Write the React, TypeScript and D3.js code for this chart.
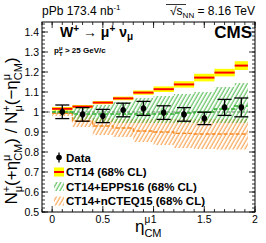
import React from "react";
import * as d3 from "d3";

const binEdges = [0, 0.2, 0.4, 0.6, 0.8, 1.0, 1.2, 1.4, 1.6, 1.8, 1.93];
const etaPoints = [0.1, 0.3, 0.5, 0.7, 0.9, 1.1, 1.3, 1.5, 1.7, 1.865];
const dataRatio = [1.001, 0.988, 0.98, 1.01, 1.018, 0.997, 0.988, 0.968, 1.023, 1.023];
const dataErr = [0.034, 0.034, 0.033, 0.034, 0.035, 0.034, 0.034, 0.031, 0.04, 0.047];
const ct14Central = [1.016, 1.027, 1.047, 1.068, 1.097, 1.114, 1.138, 1.172, 1.197, 1.232];
const ct14Err = [0.009, 0.008, 0.008, 0.009, 0.011, 0.014, 0.016, 0.019, 0.019, 0.022];
const eppsCentral = [1.0, 0.99, 0.99, 0.99, 0.99, 0.99, 0.995, 1.0, 1.015, 1.03];
const eppsLo = [0.99, 0.962, 0.95, 0.945, 0.945, 0.945, 0.945, 0.945, 0.945, 0.945];
const eppsHi = [1.01, 1.02, 1.035, 1.05, 1.07, 1.08, 1.09, 1.1, 1.125, 1.145];
const ncteqCentral = [0.993, 0.955, 0.93, 0.92, 0.905, 0.9, 0.893, 0.89, 0.89, 0.89];
const ncteqLo = [0.98, 0.925, 0.885, 0.875, 0.85, 0.835, 0.82, 0.815, 0.812, 0.812];
const ncteqHi = [1.0, 0.985, 0.97, 0.965, 0.965, 0.965, 0.965, 0.965, 0.965, 0.965];
const xTicks = [0, 0.5, 1, 1.5, 2];
const yTicks = [0.5, 0.6, 0.7, 0.8, 0.9, 1.0, 1.1, 1.2, 1.3, 1.4];
const legendLabels = ["Data", "CT14 (68% CL)", "CT14+EPPS16 (68% CL)", "CT14+nCTEQ15 (68% CL)"];

const L = 42, R = 255, T = 22, B = 212;
const GREEN = "#2fae2f";
const ORANGE = "#f5891f";
const FONT = "'Liberation Sans', Arial, Helvetica, sans-serif";

export default function App() {
  const x = d3.scaleLinear().domain([-0.1, 2.0]).range([L, R]);
  const y = d3.scaleLinear().domain([0.5, 1.45]).range([B, T]);

  const idx = d3.range(binEdges.length);
  const last = (arr: number[], i: number) => arr[Math.min(i, arr.length - 1)];
  const bandArea = (lo: number[], hi: number[]) =>
    d3.area<number>()
      .x((i) => x(binEdges[i]))
      .y0((i) => y(last(lo, i)))
      .y1((i) => y(last(hi, i)))
      .curve(d3.curveStepAfter)(idx) as string;
  const stepLine = (c: number[]) =>
    d3.line<number>()
      .x((i) => x(binEdges[i]))
      .y((i) => y(last(c, i)))
      .curve(d3.curveStepAfter)(idx) as string;

  const yMinor = d3.range(0.5, 1.4501, 0.02);
  const xMinor = d3.range(-0.1, 2.0001, 0.1);

  const legY = [157.5, 172, 186.5, 201];
  const legX = 59;

  return (
    <svg width={266} height={243} style={{ position: "absolute", left: 0, top: 0, background: "#fff" }} fontFamily={FONT}>
      <defs>
        <pattern id="hatchG" patternUnits="userSpaceOnUse" width={3.4} height={6} patternTransform="rotate(30)">
          <line x1={1} y1={-1} x2={1} y2={7} stroke={GREEN} strokeWidth={0.9} />
        </pattern>
        <pattern id="hatchO" patternUnits="userSpaceOnUse" width={3.4} height={6} patternTransform="rotate(30)">
          <line x1={1} y1={-1} x2={1} y2={7} stroke={ORANGE} strokeWidth={0.9} />
        </pattern>
        <clipPath id="plotClip">
          <rect x={L} y={T} width={R - L} height={B - T} />
        </clipPath>
      </defs>
      <rect x={0} y={0} width={266} height={243} fill="#fff" />

      <g clipPath="url(#plotClip)">
        <line x1={L} x2={R} y1={y(1)} y2={y(1)} stroke="#777" strokeWidth={1} strokeDasharray="3,2" />
        <path d={bandArea(ncteqLo, ncteqHi)} fill="url(#hatchO)" />
        <path d={bandArea(eppsLo, eppsHi)} fill="url(#hatchG)" />
        <path d={stepLine(ncteqCentral)} fill="none" stroke={ORANGE} strokeWidth={1.3} strokeDasharray="4,2" />
        <path d={stepLine(eppsCentral)} fill="none" stroke={GREEN} strokeWidth={1.3} strokeDasharray="4,2" />
        {ct14Central.map((c, i) => (
          <g key={"ct" + i}>
            <rect x={x(binEdges[i])} width={x(binEdges[i + 1]) - x(binEdges[i])}
              y={y(c + ct14Err[i])} height={y(c - ct14Err[i]) - y(c + ct14Err[i])} fill="#ffff00" />
            <line x1={x(binEdges[i])} x2={x(binEdges[i + 1])} y1={y(c)} y2={y(c)} stroke="#ff0000" strokeWidth={2} />
          </g>
        ))}
        {dataRatio.map((v, i) => {
          const cx = x(etaPoints[i]);
          return (
            <g key={"d" + i}>
              <line x1={cx} x2={cx} y1={y(v + dataErr[i])} y2={y(v - dataErr[i])} stroke="#000" strokeWidth={1.3} />
              <line x1={cx} x2={cx} y1={y(v + 0.015)} y2={y(v - 0.015)} stroke="#000" strokeWidth={2.5} />
              <line x1={cx - 7} x2={cx + 7} y1={y(v + dataErr[i])} y2={y(v + dataErr[i])} stroke="#000" strokeWidth={1.3} />
              <line x1={cx - 7} x2={cx + 7} y1={y(v - dataErr[i])} y2={y(v - dataErr[i])} stroke="#000" strokeWidth={1.3} />
              <circle cx={cx} cy={y(v)} r={2.8} fill="#000" />
            </g>
          );
        })}
      </g>

      {/* frame */}
      <rect x={L} y={T} width={R - L} height={B - T} fill="none" stroke="#000" strokeWidth={1} />
      {yMinor.map((v, i) => (
        <g key={"ym" + i}>
          <line x1={L} x2={L + 3} y1={y(v)} y2={y(v)} stroke="#000" strokeWidth={0.8} />
          <line x1={R} x2={R - 3} y1={y(v)} y2={y(v)} stroke="#000" strokeWidth={0.8} />
        </g>
      ))}
      {yTicks.map((v) => (
        <g key={"y" + v}>
          <line x1={L} x2={L + 6} y1={y(v)} y2={y(v)} stroke="#000" strokeWidth={0.8} />
          <line x1={R} x2={R - 6} y1={y(v)} y2={y(v)} stroke="#000" strokeWidth={0.8} />
          <text x={L - 3} y={y(v) + 3.6} textAnchor="end" fontSize={10.5}>{String(+v.toFixed(1))}</text>
        </g>
      ))}
      {xMinor.map((v, i) => (
        <g key={"xm" + i}>
          <line x1={x(v)} x2={x(v)} y1={B} y2={B - 3} stroke="#000" strokeWidth={0.8} />
          <line x1={x(v)} x2={x(v)} y1={T} y2={T + 3} stroke="#000" strokeWidth={0.8} />
        </g>
      ))}
      {xTicks.map((v) => (
        <g key={"x" + v}>
          <line x1={x(v)} x2={x(v)} y1={B} y2={B - 6} stroke="#000" strokeWidth={0.8} />
          <line x1={x(v)} x2={x(v)} y1={T} y2={T + 6} stroke="#000" strokeWidth={0.8} />
          <text x={x(v)} y={223} textAnchor="middle" fontSize={10.5}>{String(v)}</text>
        </g>
      ))}

      {/* header */}
      <text x={42} y={15} fontSize={12}>pPb 173.4 nb<tspan dy={-5} fontSize={8}>-1</tspan></text>
      <text x={255} y={15} textAnchor="end" fontSize={12}>
        <tspan>√</tspan><tspan>s</tspan><tspan dy={3} fontSize={8}>NN</tspan><tspan dy={-3}> = 8.16 TeV</tspan>
      </text>
      <line x1={166} x2={186} y1={4.5} y2={4.5} stroke="#000" strokeWidth={0.8} />

      {/* inner labels */}
      <text x={60} y={37} fontSize={14} fontWeight="bold">W<tspan dy={-5} fontSize={10}>+</tspan><tspan dy={5}> → μ</tspan><tspan dy={-5} fontSize={10}>+</tspan><tspan dy={5}> ν</tspan><tspan dy={3} fontSize={10}>μ</tspan></text>
      <text x={252} y={38} textAnchor="end" fontSize={17} fontWeight="bold">CMS</text>
      <text x={54} y={53} fontSize={8} fontWeight="bold">p<tspan dy={-3.5} fontSize={6}>μ</tspan><tspan dx={-3.5} dy={6} fontSize={6}>T</tspan><tspan dy={-2.5}> &gt; 25 GeV/c</tspan></text>

      {/* axis titles */}
      <text transform="translate(17,131) rotate(-90)" textAnchor="middle" fontSize={17}>
        N<tspan dy={-7} fontSize={11}>+</tspan><tspan dx={-6.4} dy={12} fontSize={11}>μ</tspan><tspan dy={-5}>(+η</tspan><tspan dy={-7} fontSize={11}>μ</tspan><tspan dx={-6.3} dy={12} fontSize={11}>CM</tspan><tspan dy={-5}>) / N</tspan><tspan dy={-7} fontSize={11}>+</tspan><tspan dx={-6.4} dy={12} fontSize={11}>μ</tspan><tspan dy={-5}>(−η</tspan><tspan dy={-7} fontSize={11}>μ</tspan><tspan dx={-6.3} dy={12} fontSize={11}>CM</tspan><tspan dy={-5}>)</tspan>
      </text>
      <text x={135} y={232} fontSize={17}>η<tspan dy={-9} fontSize={10}>μ</tspan><tspan dx={-5.8} dy={14} fontSize={11}>CM</tspan></text>

      {/* legend */}
      <g>
        <line x1={legX} x2={legX} y1={legY[0] - 5} y2={legY[0] + 5} stroke="#000" strokeWidth={1.3} />
        <circle cx={legX} cy={legY[0]} r={2.8} fill="#000" />
        <rect x={legX - 5} y={legY[1] - 4.5} width={10} height={9} fill="#ffff00" />
        <line x1={legX - 5} x2={legX + 5} y1={legY[1]} y2={legY[1]} stroke="#ff0000" strokeWidth={2} />
        <rect x={legX - 5} y={legY[2] - 4.5} width={10} height={9} fill="url(#hatchG)" />
        <rect x={legX - 5} y={legY[3] - 4.5} width={10} height={9} fill="url(#hatchO)" />
        {legendLabels.map((t, i) => (
          <text key={t} x={66} y={legY[i] + 4} fontSize={11.5} fontWeight="bold">{t}</text>
        ))}
      </g>
    </svg>
  );
}
